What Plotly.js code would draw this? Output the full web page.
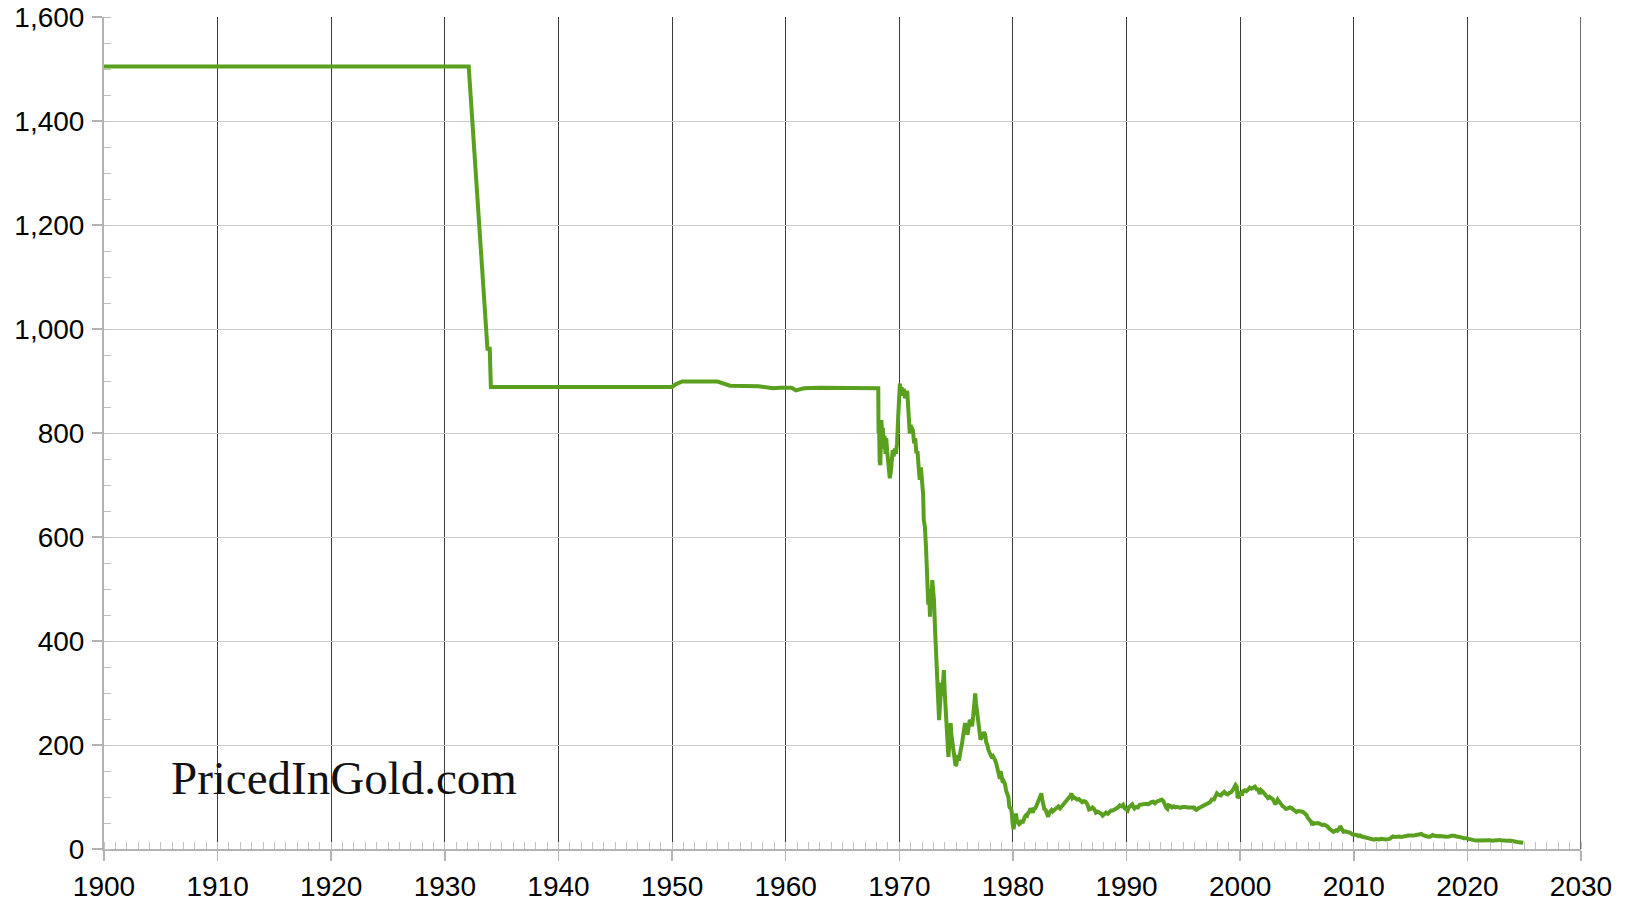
<!DOCTYPE html>
<html>
<head>
<meta charset="utf-8">
<script src="https://cdn.plot.ly/plotly-3.0.1.min.js"></script>
<style>
html,body{margin:0;padding:0;background:#fff;}
#chart{width:1627px;height:906px;}
</style>
</head>
<body>
<div id="chart"></div>
<script>
// Dollar priced in gold (milligrams of gold per US dollar)
const years = [
1900.0,1932.1,1933.75,1933.95,1934.05,1950.0,1950.35,1950.9,1954.0,1955.1,1957.6,1958.9,1959.5,1960.5,1960.9,1961.6,1963.0,1968.15,
1968.17,1968.22,1968.27,1968.33,1968.38,1968.42,1968.48,1968.55,1968.62,1968.7,1968.78,1968.85,1968.93,1969.0,1969.08,1969.16,1969.25,1969.33,1969.42,1969.5,1969.6,1969.7,1969.8,1969.9,1969.97,
1970.05,1970.12,1970.2,1970.3,1970.4,1970.5,1970.6,1970.7,1970.78,1970.85,1970.92,1971.0,1971.1,1971.2,1971.3,1971.4,1971.5,1971.6,1971.7,1971.8,1971.9,
1972.0,1972.1,1972.15,1972.25,1972.35,1972.45,1972.5,1972.55,1972.62,1972.7,1972.75,1972.82,1972.9,1972.95,1973.05,1973.15,1973.22,1973.3,1973.38,1973.45,1973.5,1973.55,1973.62,1973.7,1973.78,1973.85,1973.92,
1974.0,1974.05,1974.12,1974.2,1974.27,1974.32,1974.4,1974.47,1974.52,1974.58,1974.65,1974.72,1974.8,1974.88,1974.95,1975.02,1975.1,1975.18,1975.25,1975.32,1975.4,1975.5,1975.6,1975.7,1975.78,1975.88,
1976.0,1976.1,1976.2,1976.3,1976.4,1976.5,1976.6,1976.68,1976.75,1976.85,1976.95,1977.05,1977.15,1977.25,1977.35,1977.45,1977.55,1977.65,1977.75,1977.85,1977.95,
1978.05,1978.15,1978.25,1978.35,1978.45,1978.55,1978.65,1978.75,1978.85,1978.92,1979.0,1979.1,1979.2,1979.3,1979.4,1979.5,1979.6,1979.68,1979.75,1979.82,1979.9,1979.97,
1980.05,1980.1,1980.2,1980.27,1980.35,1980.45,1980.55,1980.65,1980.75,1980.85,1980.95,1981.05,1981.15,1981.25,1981.35,1981.45,1981.55,1981.65,1981.75,1981.85,1981.95,
1982.05,1982.15,1982.25,1982.35,1982.45,1982.5,1982.55,1982.62,1982.7,1982.78,1982.85,1982.95,1983.05,1983.1,1983.2,1983.3,1983.4,1983.5,1983.6,1983.7,1983.8,1983.9,
1984.0,1984.15,1984.3,1984.45,1984.6,1984.75,1984.9,1985.05,1985.15,1985.25,1985.35,1985.5,1985.65,1985.8,1985.95,1986.1,1986.25,1986.4,1986.55,1986.7,1986.85,
1987.0,1987.15,1987.3,1987.45,1987.6,1987.75,1987.9,1988.05,1988.2,1988.35,1988.5,1988.65,1988.8,1988.95,1989.1,1989.25,1989.4,1989.55,1989.7,1989.85,
1990.0,1990.1,1990.2,1990.35,1990.5,1990.6,1990.7,1990.85,1991.0,1991.15,1991.3,1991.45,1991.6,1991.75,1991.9,1992.05,1992.2,1992.35,1992.5,1992.65,1992.8,1992.95,
1993.1,1993.25,1993.35,1993.5,1993.6,1993.7,1993.85,1994.0,1994.15,1994.3,1994.45,1994.6,1994.75,1994.9,1995.05,1995.2,1995.35,1995.5,1995.65,1995.8,1995.95,
1996.05,1996.15,1996.3,1996.45,1996.6,1996.75,1996.9,1997.05,1997.2,1997.35,1997.5,1997.6,1997.7,1997.8,1997.95,1998.05,1998.15,1998.3,1998.45,1998.6,1998.75,1998.9,
1999.05,1999.2,1999.35,1999.5,1999.6,1999.7,1999.78,1999.85,1999.95,2000.05,2000.15,2000.25,2000.4,2000.55,2000.7,2000.85,2001.0,2001.15,2001.3,2001.45,2001.6,2001.72,2001.85,
2002.0,2002.15,2002.3,2002.45,2002.6,2002.75,2002.9,2003.05,2003.15,2003.3,2003.45,2003.6,2003.75,2003.9,2004.05,2004.2,2004.35,2004.5,2004.65,2004.8,2004.95,
2005.1,2005.25,2005.4,2005.55,2005.7,2005.85,2005.95,2006.1,2006.25,2006.35,2006.45,2006.55,2006.7,2006.85,2006.95,2007.1,2007.25,2007.4,2007.55,2007.7,2007.85,2007.95,
2008.1,2008.2,2008.3,2008.45,2008.55,2008.7,2008.8,2008.9,2009.0,2009.1,2009.25,2009.4,2009.55,2009.7,2009.85,2009.95,
2010.1,2010.25,2010.4,2010.55,2010.7,2010.85,2011.0,2011.15,2011.3,2011.45,2011.6,2011.68,2011.8,2011.95,2012.1,2012.25,2012.4,2012.55,2012.7,2012.85,
2013.0,2013.15,2013.3,2013.45,2013.6,2013.75,2013.9,2014.05,2014.2,2014.35,2014.5,2014.65,2014.8,2014.95,2015.1,2015.25,2015.4,2015.55,2015.7,2015.85,2015.95,
2016.1,2016.25,2016.4,2016.55,2016.7,2016.85,2016.95,2017.1,2017.25,2017.4,2017.55,2017.7,2017.85,2017.95,2018.1,2018.25,2018.4,2018.55,2018.7,2018.85,2018.95,
2019.1,2019.25,2019.4,2019.55,2019.7,2019.85,2019.95,2020.1,2020.25,2020.4,2020.55,2020.62,2020.75,2020.9,2021.0,2021.15,2021.25,2021.4,2021.55,2021.7,2021.85,
2022.0,2022.15,2022.25,2022.4,2022.55,2022.7,2022.85,2022.95,2023.1,2023.25,2023.4,2023.55,2023.7,2023.8,2023.95,2024.1,2024.25,2024.4,2024.55,2024.7,2024.8,2024.92
];
const mgPerDollar = [
1504.6,1504.6,962,962,888.7,888.7,894,899,899,891,890,886,887,887,882,886,887,886,
800,820,745,738,790,825,800,810,770,795,760,790,765,745,735,713,725,740,767,755,770,760,780,830,880,
895,880,888,872,885,867,875,881,850,820,799,815,810,805,780,790,761,765,735,710,734,
700,680,633,620,580,540,517,470,500,447,480,470,517,505,479,420,390,363,330,280,248,265,300,320,295,330,344,
300,281,240,215,190,177,200,225,242,220,210,197,185,170,160,162,175,180,170,184,190,200,215,225,242,230,
220,235,248,245,236,255,275,299,280,260,235,230,210,215,218,225,220,205,200,190,184,
182,175,178,175,170,163,150,140,135,150,140,128,130,125,112,108,100,82,78,80,70,50,
38,45,60,68,55,50,48,50,55,50,58,62,65,64,70,72,78,73,70,77,78,
82,88,93,97,105,107,98,88,80,75,77,70,66,62,70,73,75,72,74,78,80,81,
82,78,82,85,90,92,95,102,107,98,100,97,95,96,92,90,92,91,86,76,77,
80,77,70,72,71,68,64,66,70,68,71,74,74,76,77,80,84,82,85,78,
76,74,80,84,86,81,78,81,80,85,86,85,87,87,86,89,90,91,88,91,92,93,
95,92,85,79,77,84,83,80,82,80,81,80,79,81,82,81,80,80,81,81,80,
76,75,78,80,81,82,84,88,89,90,95,96,95,100,107,105,104,103,107,110,106,105,
108,109,113,119,123,120,98,100,106,110,103,111,113,111,114,118,116,119,120,115,114,106,113,
110,105,100,98,100,97,95,88,88,95,90,88,82,80,77,78,80,79,77,73,71,
73,73,72,71,69,65,60,56,52,46,50,49,50,50,49,47,46,47,46,43,39,38,
35,33,35,36,35,38,44,40,36,33,34,33,33,31,28,28,
28,27,25,26,24,23,22.5,22,20.5,20,18,17,18,19,18,18.5,19.5,19,18,18.5,
19,19.5,22,24,23,23.5,25,24,23,24,23.5,24.5,26,26,25,26,26.5,27.5,28,29,29,
26.5,25,24.5,23.5,23.5,26,27,25.5,24.5,24.5,25,24,24.5,24,23.5,23.5,24,25.5,26,25.5,24.5,
24,24,23.5,22,20.5,21,20.5,19.5,18.5,18,16.5,15.8,16.2,16.5,16.5,17.5,18,17,17.2,17.5,17.2,
17,16,16.2,17,17.5,18.5,17.5,17,16.5,15.5,15.8,16,16.5,15.8,15.2,15,13.8,13.5,13,12.2,11.8,11.9
];
const xTickVals = [1900,1910,1920,1930,1940,1950,1960,1970,1980,1990,2000,2010,2020,2030];
const yTickVals = [0,200,400,600,800,1000,1200,1400,1600];
const yTickText = ["0","200","400","600","800","1,000","1,200","1,400","1,600"];
const watermark = "PricedInGold.com";

const trace = {
  x: years, y: mgPerDollar, type: 'scatter', mode: 'lines',
  line: {color: '#5aa01f', width: 4},
  hoverinfo: 'skip', showlegend: false
};
const tickFont = {family: 'Liberation Sans, Arial, sans-serif', size: 28, color: '#000'};
const xEnd = xTickVals[xTickVals.length - 1];
const layout = {
  width: 1627, height: 906,
  margin: {l: 104, r: 46, t: 17, b: 57, pad: 0},
  paper_bgcolor: '#fff', plot_bgcolor: '#fff',
  xaxis: {
    range: [1900, 2030], tickmode: 'array', tickvals: xTickVals,
    showgrid: true, gridcolor: '#3c3c3c', gridwidth: 1,
    ticks: 'outside', ticklen: 10, tickcolor: '#b3b3b3', tickwidth: 1.5,
    showline: true, linecolor: '#b3b3b3', linewidth: 2,
    zeroline: false, tickfont: tickFont, ticklabelstandoff: 1,
    minor: {dtick: 1, tick0: 1900, ticks: 'inside', ticklen: 7, tickcolor: '#c0c0c0', tickwidth: 1, showgrid: false}
  },
  yaxis: {
    range: [0, 1600], tickmode: 'array', tickvals: yTickVals, ticktext: yTickText,
    showgrid: true, gridcolor: '#cccccc', gridwidth: 1,
    ticks: 'outside', ticklen: 10, tickcolor: '#b3b3b3', tickwidth: 1.5,
    showline: true, linecolor: '#b3b3b3', linewidth: 2,
    zeroline: false, tickfont: tickFont, ticklabelstandoff: 2,
    minor: {dtick: 50, tick0: 0, ticks: 'inside', ticklen: 7, tickcolor: '#c0c0c0', tickwidth: 1, showgrid: false}
  },
  shapes: [{
    type: 'line', xref: 'x', yref: 'paper', x0: xEnd, x1: xEnd, y0: 0, y1: 1,
    line: {color: '#3c3c3c', width: 1.5}, layer: 'below'
  }],
  annotations: [{
    text: watermark, xref: 'paper', yref: 'paper', x: 0.044, y: 0.085,
    xanchor: 'left', yanchor: 'middle', showarrow: false,
    font: {family: 'Liberation Serif, serif', size: 47, color: '#111'}
  }]
};
Plotly.newPlot('chart', [trace], layout, {displayModeBar: false, staticPlot: true});
</script>
</body>
</html>
